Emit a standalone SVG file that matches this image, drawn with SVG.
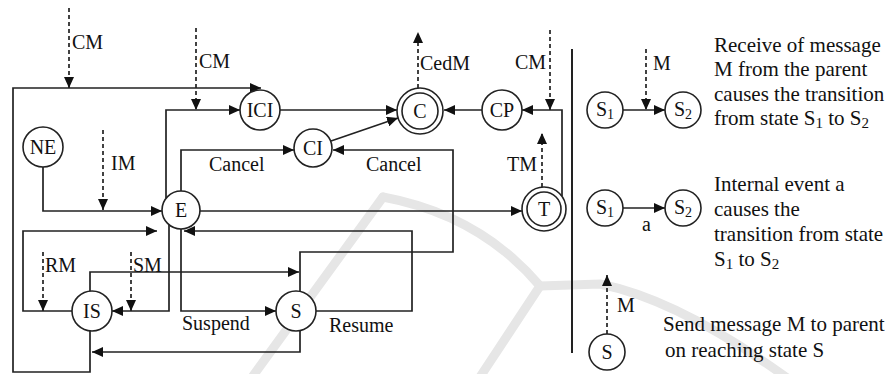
<svg xmlns="http://www.w3.org/2000/svg" width="890" height="374" viewBox="0 0 890 374">
<defs>
<marker id="ah" markerUnits="userSpaceOnUse" markerWidth="11" markerHeight="10" refX="11" refY="5" orient="auto">
<path d="M0,0 L11,5 L0,10 z" fill="#111"/>
</marker>
<style>
.ln{fill:none;stroke:#222;stroke-width:1.7}
.ar{fill:none;stroke:#222;stroke-width:1.7;marker-end:url(#ah)}
.da{fill:none;stroke:#222;stroke-width:1.7;stroke-dasharray:4,3;marker-end:url(#ah)}
.nd{fill:#fff;stroke:#222;stroke-width:1.6}
.t{font-family:"Liberation Serif","Times New Roman",serif;font-size:20px;fill:#111}
.tc{font-family:"Liberation Serif","Times New Roman",serif;font-size:20px;fill:#111;text-anchor:middle}
.tr{font-family:"Liberation Serif","Times New Roman",serif;font-size:21px;fill:#111}
.wm{fill:none;stroke:#e6e6e6;stroke-width:9;stroke-linecap:round}
</style>
</defs>
<rect width="890" height="374" fill="#fff"/>
<g id="watermark">
<path class="wm" d="M250,380 L383,197"/>
<path class="wm" d="M383,197 Q480,215 540,286"/>
<path class="wm" d="M540,286 L478,380"/>
<path class="wm" d="M540,286 L600,284 Q680,300 790,380"/>
</g>
<g id="connectors">
<path class="ar" d="M90,331 V372 H13 V88 H261"/>
<path class="ar" d="M166,198 V110 H240"/>
<path class="ar" d="M181,191 V150 H294"/>
<path class="ar" d="M43,167 V211 H162"/>
<path class="ar" d="M200,211 H522"/>
<path class="ar" d="M280,110 H397"/>
<path class="ar" d="M331,141 L398,118"/>
<path class="ar" d="M482,110 H444"/>
<path class="ar" d="M562,196 V110 H522"/>
<path class="ar" d="M72,311 H23 V231 H157"/>
<path class="ar" d="M169,225 V311 H112"/>
<path class="ar" d="M181,229 V311 H276"/>
<path class="ar" d="M316,311 H412 V231 H184"/>
<path class="ar" d="M90,291 V272 H299"/>
<path class="ar" d="M300,291 V252 H453 V150 H333"/>
<path class="ar" d="M300,331 V352 H92"/>
<path class="da" d="M69,8 V88"/>
<path class="da" d="M196,28 V110"/>
<path class="da" d="M103,130 V210"/>
<path class="da" d="M43,252 V311"/>
<path class="da" d="M131,252 V311"/>
<path class="da" d="M418,88 V32"/>
<path class="da" d="M550,30 V110"/>
<path class="da" d="M542,187 V133"/>
<path class="ln" d="M572,49 V353" style="stroke-width:2"/>
<path class="ar" d="M623,110 H665"/>
<path class="da" d="M646,49 V110"/>
<path class="ar" d="M623,208 H665"/>
<path class="da" d="M607,334 V275"/>
</g>
<g id="labels">
<text class="t" x="72" y="49">CM</text>
<text class="t" x="199" y="68">CM</text>
<text class="t" x="111" y="170">IM</text>
<text class="t" x="209" y="171">Cancel</text>
<text class="t" x="420" y="70">CedM</text>
<text class="t" x="515" y="69">CM</text>
<text class="t" x="366" y="171">Cancel</text>
<text class="t" x="507" y="171">TM</text>
<text class="t" x="45" y="272">RM</text>
<text class="t" x="133" y="272">SM</text>
<text class="t" x="182" y="330">Suspend</text>
<text class="t" x="329" y="332">Resume</text>
</g>
<g id="NE"><circle class="nd" cx="43" cy="147" r="20"/><text class="tc" x="43" y="154">NE</text></g>
<g id="ICI"><circle class="nd" cx="260" cy="110" r="20"/><text class="tc" x="260" y="117">ICI</text></g>
<g id="CI"><circle class="nd" cx="313" cy="148" r="19"/><text class="tc" x="313" y="155">CI</text></g>
<g id="C"><circle class="nd" cx="420" cy="111" r="23"/><circle class="nd" cx="420" cy="111" r="18"/><text class="tc" x="420" y="118">C</text></g>
<g id="CP"><circle class="nd" cx="502" cy="110" r="20"/><text class="tc" x="502" y="117">CP</text></g>
<g id="E"><circle class="nd" cx="181" cy="210" r="19"/><text class="tc" x="181" y="217">E</text></g>
<g id="T"><circle class="nd" cx="544" cy="209" r="22"/><circle class="nd" cx="544" cy="209" r="17"/><text class="tc" x="544" y="216">T</text></g>
<g id="IS"><circle class="nd" cx="92" cy="311" r="20"/><text class="tc" x="92" y="318">IS</text></g>
<g id="S"><circle class="nd" cx="296" cy="311" r="20"/><text class="tc" x="296" y="318">S</text></g>
<g id="legend-msg">
<circle class="nd" cx="605" cy="110" r="18"/><text class="tc" x="605" y="116">S<tspan font-size="14" dy="3">1</tspan></text>
<circle class="nd" cx="683" cy="110" r="18"/><text class="tc" x="683" y="116">S<tspan font-size="14" dy="3">2</tspan></text>
<text class="t" x="653" y="70">M</text>
<text class="tr" x="714" y="52">Receive of message</text>
<text class="tr" x="714" y="76">M from the parent</text>
<text class="tr" x="714" y="101">causes the transition</text>
<text class="tr" x="714" y="125">from state S<tspan font-size="15" dy="3">1</tspan><tspan dy="-3"> to S</tspan><tspan font-size="15" dy="3">2</tspan></text>
</g>
<g id="legend-event">
<circle class="nd" cx="605" cy="208" r="18"/><text class="tc" x="605" y="214">S<tspan font-size="14" dy="3">1</tspan></text>
<circle class="nd" cx="683" cy="208" r="18"/><text class="tc" x="683" y="214">S<tspan font-size="14" dy="3">2</tspan></text>
<text class="t" x="642" y="231">a</text>
<text class="tr" x="714" y="191">Internal event a</text>
<text class="tr" x="714" y="216">causes the</text>
<text class="tr" x="714" y="241">transition from state</text>
<text class="tr" x="714" y="266">S<tspan font-size="15" dy="3">1</tspan><tspan dy="-3"> to S</tspan><tspan font-size="15" dy="3">2</tspan></text>
</g>
<g id="legend-send">
<circle class="nd" cx="607" cy="352" r="18"/><text class="tc" x="607" y="359">S</text>
<text class="t" x="617" y="312">M</text>
<text class="tr" x="663" y="331">Send message M to parent</text>
<text class="tr" x="665" y="357">on reaching state S</text>
</g>
</svg>
